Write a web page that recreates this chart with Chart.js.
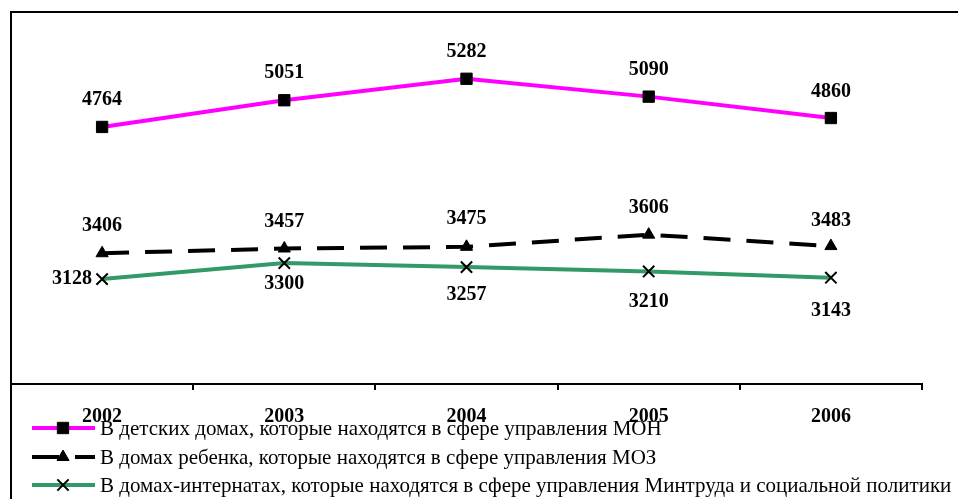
<!DOCTYPE html>
<html>
<head>
<meta charset="utf-8">
<script src="https://cdn.jsdelivr.net/npm/chart.js@4.4.1/dist/chart.umd.min.js"></script>
<style>
    body { margin: 0; background: #fff; }
</style>
</head>
<body>
<canvas id="grafDomy" width="958" height="499"></canvas>
<script>
// data
const roky = ['2002', '2003', '2004', '2005', '2006'];
const domyMON = [4764, 5051, 5282, 5090, 4860];
const domyMOZ = [3406, 3457, 3475, 3606, 3483];
const domyMintrud = [3128, 3300, 3257, 3210, 3143];
const nazvy = [
    'В детских домах, которые находятся в сфере управления МОН',
    'В домах ребенка, которые находятся в сфере управления МОЗ',
    'В домах-интернатах, которые находятся в сфере управления Минтруда и социальной политики'
];

const PISMO = '"Liberation Serif", "Times New Roman", serif';

// posuny popisku (px) – nad / pod bodem
const posunPopisku = [
    [-27, -27, -27, -27, -26],
    [-27, -27, -28, -27, -25],
    [0, 21, 28, 30, 33]
];

// ramecek grafu (jen levy a horni okraj)
const ramecek = {
    id: 'ramecek',
    afterDraw(chart) {
        const c = chart.ctx;
        c.save();
        c.strokeStyle = '#000';
        c.lineWidth = 2;
        c.beginPath();
        c.moveTo(11, 499);
        c.lineTo(11, 12);
        c.lineTo(958, 12);
        c.stroke();
        c.restore();
    }
};

// popisky hodnot
const popisky = {
    id: 'popisky',
    afterDatasetsDraw(chart) {
        const c = chart.ctx;
        c.save();
        c.font = 'bold 20px ' + PISMO;
        c.fillStyle = '#000';
        c.textBaseline = 'middle';
        chart.data.datasets.forEach((ds, di) => {
            const meta = chart.getDatasetMeta(di);
            meta.data.forEach((bod, i) => {
                const text = String(ds.data[i]);
                if (di === 2 && i === 0) {
                    c.textAlign = 'right';
                    c.fillText(text, bod.x - 10, bod.y);
                } else {
                    c.textAlign = 'center';
                    c.fillText(text, bod.x, bod.y + posunPopisku[di][i]);
                }
            });
        });
        c.restore();
    }
};

// legenda dole
const legenda = {
    id: 'legenda',
    afterDraw(chart) {
        const c = chart.ctx;
        const radky = [428, 457, 485];
        c.save();
        chart.data.datasets.forEach((ds, di) => {
            const y = radky[di];
            c.strokeStyle = ds.borderColor;
            c.lineWidth = 4;
            c.setLineDash(ds.borderDash || []);
            c.beginPath();
            c.moveTo(32, y);
            c.lineTo(95, y);
            c.stroke();
            c.setLineDash([]);
            c.fillStyle = '#000';
            c.strokeStyle = '#000';
            c.lineWidth = ds.pointBorderWidth;
            Chart.helpers.drawPoint(c, {
                pointStyle: ds.pointStyle,
                radius: ds.pointRadius,
                borderWidth: ds.pointBorderWidth
            }, 63, y);
            c.font = '21px ' + PISMO;
            c.textAlign = 'left';
            c.textBaseline = 'middle';
            c.fillText(nazvy[di], 100, y + 1);
        });
        c.restore();
    }
};

const ctx = document.getElementById('grafDomy').getContext('2d');

new Chart(ctx, {
    type: 'line',
    data: {
        labels: roky,
        datasets: [
            {
                label: nazvy[0],
                data: domyMON,
                borderColor: '#FF00FF',
                borderWidth: 4,
                pointStyle: 'rect',
                pointRadius: 8,
                pointBorderWidth: 1,
                pointBackgroundColor: '#000',
                pointBorderColor: '#000',
                tension: 0
            },
            {
                label: nazvy[1],
                data: domyMOZ,
                borderColor: '#000',
                borderWidth: 4,
                borderDash: [27, 16],
                pointStyle: 'triangle',
                pointRadius: 7,
                pointBorderWidth: 1,
                pointBackgroundColor: '#000',
                pointBorderColor: '#000',
                tension: 0
            },
            {
                label: nazvy[2],
                data: domyMintrud,
                borderColor: '#339966',
                borderWidth: 4,
                pointStyle: 'crossRot',
                pointRadius: 8,
                pointBorderWidth: 2,
                pointBackgroundColor: '#000',
                pointBorderColor: '#000',
                tension: 0
            }
        ]
    },
    options: {
        responsive: false,
        devicePixelRatio: 1,
        animation: false,
        layout: {
            padding: { left: 11, top: 12, right: 36, bottom: 0 }
        },
        plugins: {
            legend: { display: false },
            tooltip: { enabled: false }
        },
        scales: {
            x: {
                offset: true,
                grid: {
                    offset: true,
                    drawOnChartArea: false,
                    tickLength: 6,
                    color: '#000',
                    lineWidth: 2
                },
                border: { color: '#000', width: 2 },
                ticks: {
                    color: '#000',
                    padding: 15,
                    font: { family: PISMO, size: 20, weight: 'bold' }
                },
                afterFit(axis) {
                    axis.height = 115;
                }
            },
            y: {
                display: false,
                min: 2000,
                max: 6000
            }
        }
    },
    plugins: [ramecek, popisky, legenda]
});
</script>
</body>
</html>
